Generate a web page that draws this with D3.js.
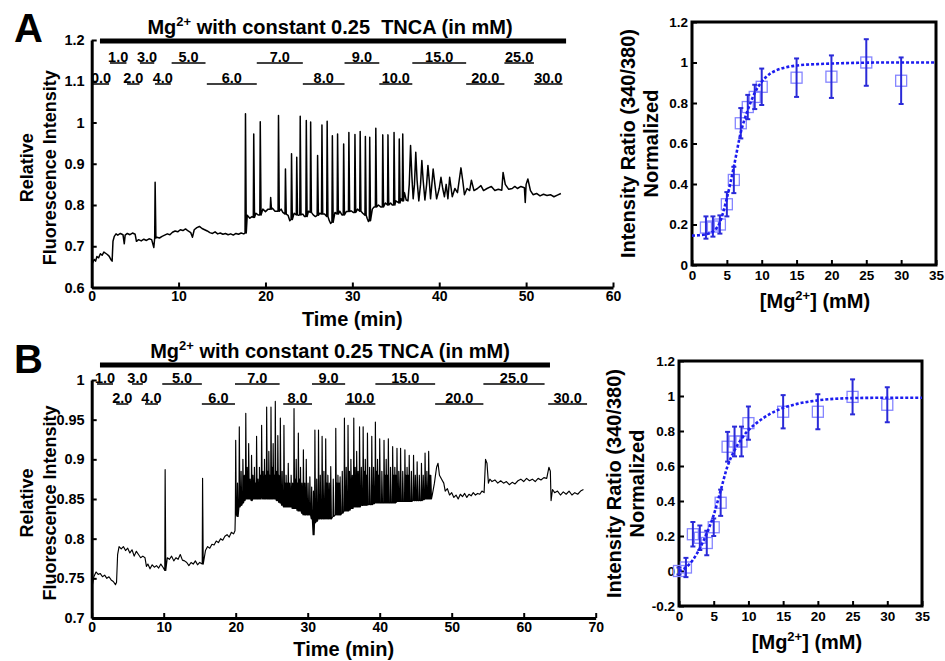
<!DOCTYPE html>
<html>
<head>
<meta charset="utf-8">
<script src="https://cdn.jsdelivr.net/npm/d3@7"></script>
<style>
  body { margin: 0; background: #fff; }
  svg { display: block; font-family: "Liberation Sans", Arial, sans-serif; font-weight: bold; }
</style>
</head>
<body>
<div id="fig"></div>
<script>
// ---- panel A trace: slow baseline + fast spikes [t, trough, peak] ----
const traceA_base = [[0.0,0.655],[0.15,0.662],[0.3,0.668],[0.45,0.664],[0.6,0.675],[0.8,0.672],[1.0,0.682],[1.2,0.678],[1.4,0.686],[1.6,0.683],[1.8,0.68],[2.0,0.676],[2.2,0.668],[2.35,0.664],[2.45,0.712],[2.6,0.724],[2.8,0.73],[3.0,0.727],[3.3,0.731],[3.6,0.728],[3.75,0.706],[3.85,0.727],[4.1,0.731],[4.4,0.728],[4.7,0.732],[5.0,0.729],[5.15,0.712],[5.4,0.716],[5.7,0.713],[6.0,0.717],[6.3,0.714],[6.6,0.718],[6.9,0.716],[7.15,0.697],
  [7.5,0.722],[7.8,0.72],[8.1,0.724],[8.4,0.727],[8.7,0.73],[9.0,0.728],[9.3,0.734],[9.6,0.737],[9.9,0.735],[10.2,0.74],[10.5,0.738],[10.8,0.742],[11.1,0.737],[11.4,0.733],[11.6,0.722],[11.8,0.74],[12.1,0.745],[12.4,0.748],[12.7,0.743],[13.0,0.74],[13.3,0.737],[13.6,0.733],[13.9,0.731],[14.2,0.735],[14.5,0.73],[14.8,0.732],[15.1,0.729],[15.4,0.731],[15.7,0.728],[16.0,0.73],[16.3,0.727],[16.6,0.731],[16.9,0.729],[17.2,0.732],[17.5,0.73],
  [17.9,0.775],[18.2,0.768],[18.45,0.772],[18.9,0.78],[19.15,0.776],[19.7,0.79],[20.0,0.784],[20.3,0.79],[20.8,0.792],[21.1,0.785],[21.8,0.79],[22.0,0.782],[22.6,0.775],[22.8,0.762],[23.3,0.78],[23.8,0.775],[24.3,0.778],[24.5,0.772],[24.95,0.785],[25.5,0.776],[25.75,0.772],[26.25,0.78],[26.8,0.778],[27.35,0.762],[27.5,0.755],[28.0,0.782],[28.55,0.785],[28.8,0.776],[29.3,0.784],[29.85,0.786],[30.1,0.782],[30.6,0.79],[31.2,0.78],[31.7,0.768],[31.85,0.76],[32.3,0.79],[32.5,0.795],[33.0,0.8],[33.3,0.795],[33.8,0.805],[34.4,0.805],[34.6,0.8],[35.0,0.81],[35.6,0.815],[36.0,0.83],[36.2,0.812],
  [36.4,0.81],[36.55,0.85],[36.7,0.944],[36.85,0.87],[37.0,0.815],[37.15,0.85],[37.3,0.928],[37.45,0.86],[37.65,0.81],[37.85,0.85],[38.0,0.908],[38.15,0.86],[38.35,0.812],[38.55,0.85],[38.7,0.896],[38.85,0.86],[39.0,0.815],[39.15,0.85],[39.3,0.887],[39.5,0.85],[39.7,0.815],[40.0,0.84],[40.2,0.867],[40.4,0.84],[40.6,0.82],[40.8,0.85],[41.0,0.815],[41.2,0.867],[41.5,0.82],[41.8,0.84],[42.1,0.83],[42.3,0.86],[42.5,0.89],[42.7,0.86],[42.9,0.825],[43.2,0.84],[43.5,0.835],[43.7,0.86],[44.0,0.835],[44.4,0.84],[44.8,0.847],[45.1,0.835],[45.5,0.84],[46.0,0.845],[46.4,0.835],[46.8,0.838],[47.2,0.836],[47.35,0.879],[47.6,0.85],[48.0,0.838],[48.4,0.84],[48.7,0.845],[49.0,0.84],[49.4,0.845],[49.8,0.842],[49.9,0.806],[50.0,0.85],[50.2,0.863],[50.5,0.835],[50.8,0.825],[51.2,0.828],[51.6,0.822],[52.0,0.826],[52.4,0.823],[52.8,0.825],[53.2,0.82],[53.6,0.824],[54.0,0.828]];
const traceA_spikes = [[7.3,0.72,0.855],[17.7,0.732,1.021],[18.65,0.77,0.972],[19.4,0.776,1.002],[20.6,0.79,0.818],[21.5,0.785,1.017],[22.3,0.778,0.887],[23.0,0.765,0.924],[23.6,0.776,0.916],[24.0,0.776,1.015],[24.7,0.772,1.005],[25.2,0.782,1.001],[26.0,0.775,0.92],[26.5,0.778,0.994],[27.1,0.772,1.003],[27.7,0.758,0.968],[28.3,0.778,0.972],[29.0,0.776,0.948],[29.6,0.784,0.976],[30.3,0.782,0.971],[30.9,0.785,0.978],[31.5,0.775,0.966],[32.0,0.762,0.964],[32.7,0.795,0.986],[33.5,0.795,0.97],[34.1,0.8,0.97],[34.8,0.8,0.976],[35.4,0.805,0.96],[35.8,0.81,0.972]];

// ---- panel B trace ----
const traceB_base = [[0,0.725],[0.1,0.742],[0.3,0.752],[0.6,0.758],[0.9,0.755],[1.2,0.756],[1.5,0.752],[1.8,0.754],[2.1,0.75],[2.4,0.752],[2.7,0.748],[3.0,0.746],[3.3,0.742],[3.45,0.745],[3.6,0.78],[3.8,0.79],[4.1,0.787],[4.4,0.79],[4.7,0.785],[5.0,0.788],[5.3,0.782],[5.6,0.786],[5.9,0.778],[6.2,0.784],[6.5,0.78],[6.8,0.776],[7.1,0.778],[7.4,0.776],[7.6,0.765],[7.8,0.768],[8.1,0.762],[8.4,0.767],[8.7,0.764],[9.0,0.766],[9.3,0.763],[9.6,0.768],[9.9,0.764],
  [10.5,0.776],[10.8,0.774],[11.1,0.778],[11.4,0.772],[11.7,0.776],[12.0,0.774],[12.3,0.78],[12.6,0.773],[12.9,0.772],[13.2,0.77],[13.5,0.766],[13.8,0.77],[14.1,0.768],[14.4,0.772],[14.7,0.767],[15.0,0.77],
  [15.8,0.785],[16.1,0.79],[16.4,0.788],[16.7,0.793],[17.0,0.792],[17.3,0.797],[17.6,0.795],[17.9,0.8],[18.2,0.798],[18.5,0.803],[18.8,0.805],[19.1,0.802],[19.4,0.808],[19.7,0.806],[19.9,0.81],
  [47.3,0.855],[47.6,0.87],[47.9,0.89],[48.1,0.895],[48.3,0.88],[48.6,0.875],[48.9,0.87],[49.1,0.86],[49.4,0.863],[49.7,0.855],[50.0,0.858],[50.3,0.852],[50.6,0.855],[50.9,0.85],[51.2,0.856],[51.5,0.853],[51.8,0.857],[52.1,0.852],[52.4,0.856],[52.7,0.854],[53.0,0.858],[53.3,0.855],[53.6,0.857],[53.9,0.856],[54.2,0.86],[54.5,0.858],[54.7,0.9],[54.9,0.895],[55.1,0.87],[55.3,0.875],[55.6,0.872],[56.0,0.874],[56.4,0.87],[56.8,0.873],[57.2,0.87],[57.6,0.872],[58.0,0.868],[58.4,0.871],[58.8,0.869],[59.2,0.873],[59.6,0.875],[60.0,0.872],[60.4,0.876],[60.8,0.873],[61.2,0.875],[61.6,0.872],[62.0,0.876],[62.4,0.874],[62.8,0.877],[63.2,0.876],[63.5,0.89],[63.7,0.885],[63.8,0.848],[64.0,0.862],[64.3,0.858],[64.7,0.86],[65.1,0.855],[65.5,0.859],[65.9,0.856],[66.3,0.86],[66.7,0.855],[67.1,0.858],[67.5,0.856],[67.9,0.86],[68.3,0.862]];
const traceB_spikes = [[10.2,0.76,0.887],[15.4,0.768,0.876],
  [20.0,0.83,0.924],[20.25,0.828,0.87],[20.5,0.84,0.941],[20.75,0.842,0.885],[21.0,0.845,0.90],[21.2,0.848,0.88],[21.4,0.85,0.958],[21.6,0.85,0.89],[21.8,0.85,0.92],[22.0,0.85,0.875],[22.2,0.848,0.905],[22.4,0.85,0.88],[22.6,0.85,0.89],[22.75,0.85,0.87],[22.9,0.85,0.929],[23.1,0.85,0.875],[23.3,0.85,0.89],[23.45,0.85,0.88],[23.6,0.852,0.943],[23.8,0.85,0.885],[24.0,0.85,0.9],[24.15,0.85,0.88],[24.3,0.852,0.966],[24.45,0.85,0.885],[24.6,0.85,0.91],[24.75,0.85,0.88],[24.9,0.85,0.966],[25.05,0.85,0.89],[25.2,0.852,0.92],[25.35,0.85,0.88],[25.5,0.85,0.973],[25.7,0.848,0.885],[25.85,0.848,0.93],[26.0,0.846,0.88],[26.2,0.845,0.952],[26.45,0.842,0.885],[26.7,0.84,0.943],[26.85,0.84,0.87],[27.0,0.84,0.88],[27.15,0.84,0.87],[27.3,0.84,0.895],[27.5,0.84,0.87],[27.7,0.84,0.88],[27.9,0.838,0.87],[28.1,0.838,0.964],[28.25,0.838,0.875],[28.4,0.838,0.9],[28.55,0.836,0.87],[28.7,0.835,0.933],[28.85,0.835,0.875],[29.0,0.835,0.89],[29.2,0.832,0.87],[29.4,0.83,0.912],[29.6,0.83,0.87],[29.8,0.83,0.9],[30.05,0.83,0.87],[30.3,0.83,0.878],[30.55,0.825,0.865],[30.8,0.805,0.86],[31.0,0.82,0.937],[31.25,0.822,0.875],[31.5,0.825,0.937],[31.75,0.825,0.88],[32.0,0.825,0.929],[32.25,0.825,0.885],[32.5,0.825,0.926],[32.65,0.825,0.87],[32.8,0.825,0.88],[33.0,0.825,0.87],[33.2,0.825,0.891],[33.55,0.828,0.875],[33.9,0.83,0.939],[34.05,0.83,0.87],[34.2,0.83,0.88],[34.35,0.83,0.87],[34.5,0.83,0.878],[34.8,0.832,0.885],[35.1,0.835,0.952],[35.35,0.835,0.89],[35.6,0.835,0.943],[35.8,0.836,0.885],[36.0,0.838,0.9],[36.2,0.838,0.88],[36.4,0.84,0.952],[36.6,0.84,0.89],[36.8,0.84,0.91],[37.0,0.84,0.885],[37.2,0.84,0.941],[37.45,0.842,0.89],[37.7,0.842,0.941],[37.85,0.842,0.885],[38.0,0.842,0.9],[38.15,0.842,0.88],[38.3,0.843,0.933],[38.6,0.843,0.89],[38.9,0.843,0.929],[39.15,0.844,0.89],[39.4,0.845,0.947],[39.55,0.845,0.885],[39.7,0.845,0.9],[39.85,0.845,0.88],[40.0,0.845,0.926],[40.3,0.845,0.885],[40.6,0.845,0.924],[40.75,0.845,0.88],[40.9,0.845,0.9],[41.05,0.845,0.88],[41.2,0.845,0.926],[41.5,0.845,0.89],[41.8,0.845,0.916],[41.95,0.845,0.88],[42.1,0.845,0.89],[42.25,0.846,0.88],[42.4,0.847,0.914],[42.65,0.847,0.885],[42.9,0.847,0.914],[43.2,0.847,0.885],[43.5,0.847,0.912],[43.65,0.847,0.88],[43.8,0.847,0.89],[43.95,0.847,0.88],[44.1,0.847,0.905],[44.4,0.847,0.885],[44.7,0.848,0.905],[44.95,0.848,0.88],[45.2,0.848,0.897],[45.5,0.848,0.88],[45.8,0.848,0.895],[46.05,0.849,0.88],[46.3,0.85,0.908],[46.55,0.85,0.885],[46.8,0.85,0.91],[46.95,0.85,0.88],[47.1,0.85,0.88]];

// ---- Mg2+ concentration steps (mM) and their time windows (min) ----
const concLabelsA = ['0.0','1.0','2.0','3.0','4.0','5.0','6.0','7.0','8.0','9.0','10.0','15.0','20.0','25.0','30.0'];
const concStartA  = [0.15, 2.1, 4.07, 5.55, 7.28, 9.2, 13.25, 19.0, 24.3, 29.1, 33.1, 36.9, 43.1, 47.5, 50.9];
const concEndA    = [2.0, 4.0, 5.5, 7.2, 9.1, 13.1, 19.0, 24.3, 29.1, 33.1, 36.9, 43.1, 47.5, 50.9, 54.2];
const concLabelsB = ['1.0','2.0','3.0','4.0','5.0','6.0','7.0','8.0','9.0','10.0','15.0','20.0','25.0','30.0'];
const concStartB  = [0.74, 3.4, 5.6, 7.4, 9.8, 15.3, 19.9, 26.6, 30.6, 35.2, 39.4, 47.7, 54.4, 63.4];
const concEndB    = [2.96, 5.1, 7.1, 9.2, 15.3, 19.9, 26.1, 30.6, 35.2, 39.4, 47.7, 54.4, 62.9, 68.8];
const runSpanA = [0.95, 54.6];
const runSpanB = [1.15, 63.65];

// ---- titration (normalized 340/380 ratio) ----
const mgA   = [2, 3, 4, 5, 6, 7, 8, 9, 10, 15, 20, 25, 30];
const ratioA = [0.185, 0.19, 0.2, 0.30, 0.42, 0.70, 0.78, 0.83, 0.88, 0.925, 0.93, 1.0, 0.91];
const errA   = [0.055, 0.05, 0.045, 0.06, 0.065, 0.075, 0.06, 0.06, 0.09, 0.095, 0.105, 0.115, 0.115];
const fitA = [[0,0.145],[1,0.147],[2,0.152],[3,0.165],[4,0.21],[5,0.33],[6,0.485],[7,0.655],[8,0.765],[9,0.85],[10,0.905],[11,0.94],[12,0.96],[13,0.972],[15,0.985],[18,0.992],[22,0.997],[28,1.0],[35,1.0]];
const mgB   = [0, 1, 2, 3, 4, 5, 6, 7, 8, 9, 10, 15, 20, 25, 30];
const ratioB = [0.0, 0.02, 0.21, 0.19, 0.16, 0.25, 0.39, 0.71, 0.74, 0.74, 0.845, 0.91, 0.91, 0.995, 0.95];
const errB   = [0.02, 0.055, 0.07, 0.07, 0.07, 0.05, 0.075, 0.085, 0.085, 0.085, 0.095, 0.095, 0.1, 0.1, 0.1];
const fitB = [[0,0.0],[1,0.02],[2,0.063],[3,0.13],[4,0.215],[5,0.32],[6,0.46],[7,0.6],[8,0.69],[9,0.755],[10,0.805],[11,0.84],[12,0.87],[13,0.895],[15,0.932],[17,0.955],[20,0.975],[25,0.988],[30,0.99],[35,0.99]];

const ticksTraceYA = [0.6, 0.7, 0.8, 0.9, 1, 1.1, 1.2];
const ticksTraceYB = [0.7, 0.75, 0.8, 0.85, 0.9, 0.95, 1];
const ticksRatioYA = [0, 0.2, 0.4, 0.6, 0.8, 1, 1.2];
const ticksRatioYB = [-0.2, 0, 0.2, 0.4, 0.6, 0.8, 1, 1.2];
const ticksMg = [0, 5, 10, 15, 20, 25, 30, 35];

const width = 945, height = 661;
const svg = d3.select('#fig').append('svg').attr('width', width).attr('height', height);
const fmt = d => String(d);

function styleAxis(g, w) {
    g.select('.domain').attr('stroke-width', w);
    g.selectAll('.tick line').attr('stroke-width', 2);
    g.selectAll('text').attr('fill', '#000');
}

function tracePanel(o) {
    const x = d3.scaleLinear().domain(o.xDomain).range([o.left, o.right]);
    const y = d3.scaleLinear().domain(o.yDomain).range([o.bottom, o.top]);
    const g = svg.append('g');

    // merge baseline with the spikes (sharp rise, quick fall)
    const pts = o.base.slice();
    o.spikes.forEach(s => pts.push([s[0] - 0.05, s[1]], [s[0], s[2]], [s[0] + 0.09, s[1]]));
    pts.sort((a, b) => a[0] - b[0]);
    g.append('path').datum(pts)
        .attr('d', d3.line().x(d => x(d[0])).y(d => y(d[1])))
        .attr('fill', 'none').attr('stroke', '#000').attr('stroke-width', o.lineW)
        .attr('stroke-linejoin', 'round');

    g.append('g').attr('transform', `translate(${o.left},0)`)
        .call(d3.axisLeft(y).tickValues(o.yTicks).tickFormat(fmt).tickSize(-5).tickSizeOuter(0).tickPadding(7))
        .attr('font-size', 14.5).attr('font-family', null).attr('font-weight', 'bold')
        .call(g => styleAxis(g, 3));
    g.append('g').attr('transform', `translate(0,${o.bottom})`)
        .call(d3.axisBottom(x).ticks(o.xTicks).tickFormat(fmt).tickSize(-5).tickSizeOuter(0).tickPadding(4))
        .attr('font-size', 14).attr('font-family', null).attr('font-weight', 'bold')
        .call(g => styleAxis(g, 3));

    g.append('text').attr('x', (o.left + o.right) / 2).attr('y', o.bottom + 38)
        .attr('text-anchor', 'middle').attr('font-size', 20).text('Time (min)');
    const cy = (o.top + o.bottom) / 2 + 4;
    g.append('text').attr('transform', `translate(33,${cy}) rotate(-90)`)
        .attr('text-anchor', 'middle').attr('font-size', 18).text('Relative');
    g.append('text').attr('transform', `translate(56,${cy}) rotate(-90)`)
        .attr('text-anchor', 'middle').attr('font-size', 18).text('Fluorescence Intensity');

    // header: thick run bar + title
    const t = g.append('text').attr('x', 330).attr('y', o.headY).attr('text-anchor', 'middle')
        .attr('font-size', 20).style('white-space', 'pre');
    t.append('tspan').text('Mg');
    t.append('tspan').attr('font-size', 13).attr('dy', -8).text('2+');
    t.append('tspan').attr('dy', 8).text(o.title);
    g.append('line').attr('x1', x(o.span[0])).attr('x2', x(o.span[1]))
        .attr('y1', o.barY).attr('y2', o.barY).attr('stroke', '#000').attr('stroke-width', 5);

    // concentration steps, alternating between two rows
    o.labels.forEach((lab, i) => {
        const row = (i + o.firstRow) % 2;
        const yy = o.rowY[row];
        g.append('line').attr('x1', x(o.starts[i])).attr('x2', x(o.ends[i]))
            .attr('y1', yy).attr('y2', yy).attr('stroke', '#000').attr('stroke-width', 1.5);
        g.append('text').attr('x', x((o.starts[i] + o.ends[i]) / 2)).attr('y', yy - 1.5)
            .attr('text-anchor', 'middle').attr('font-size', 14.5).text(lab);
    });

    g.append('text').attr('x', 14).attr('y', o.letterY).attr('font-size', 40).text(o.letter);
}

function ratioPanel(o) {
    const x = d3.scaleLinear().domain([0, 35]).range([o.left, o.right]);
    const y = d3.scaleLinear().domain(o.yDomain).range([o.bottom, o.top]);
    const g = svg.append('g');

    g.append('g').attr('transform', `translate(${o.left},0)`)
        .call(d3.axisLeft(y).tickValues(o.yTicks).tickFormat(fmt).tickSize(-5).tickSizeOuter(0).tickPadding(4))
        .attr('font-size', 13.5).attr('font-family', null).attr('font-weight', 'bold')
        .call(g => styleAxis(g, 0));
    g.append('g').attr('transform', `translate(0,${o.bottom})`)
        .call(d3.axisBottom(x).tickValues(ticksMg).tickFormat(fmt).tickSize(-5).tickSizeOuter(0).tickPadding(5))
        .attr('font-size', 13.5).attr('font-family', null).attr('font-weight', 'bold')
        .call(g => styleAxis(g, 0));
    g.append('rect').attr('x', o.left).attr('y', o.top)
        .attr('width', o.right - o.left).attr('height', o.bottom - o.top)
        .attr('fill', 'none').attr('stroke', '#000').attr('stroke-width', 3);

    const pts = o.mg.map((m, i) => ({m, v: o.ratio[i], e: o.err[i]}));
    g.selectAll('rect.pt').data(pts).enter().append('rect').attr('class', 'pt')
        .attr('x', d => x(d.m) - 5.5).attr('y', d => y(d.v) - 5.5).attr('width', 11).attr('height', 11)
        .attr('fill', 'none').attr('stroke', '#8585ff').attr('stroke-width', 1.3);
    const eb = g.selectAll('g.eb').data(pts).enter().append('g').attr('class', 'eb')
        .attr('stroke', '#2a2ad8').attr('stroke-width', 2);
    eb.append('line').attr('x1', d => x(d.m)).attr('x2', d => x(d.m))
        .attr('y1', d => y(d.v - d.e)).attr('y2', d => y(d.v + d.e));
    eb.append('line').attr('x1', d => x(d.m) - 2.5).attr('x2', d => x(d.m) + 2.5)
        .attr('y1', d => y(d.v - d.e)).attr('y2', d => y(d.v - d.e));
    eb.append('line').attr('x1', d => x(d.m) - 2.5).attr('x2', d => x(d.m) + 2.5)
        .attr('y1', d => y(d.v + d.e)).attr('y2', d => y(d.v + d.e));

    g.append('path').datum(o.fit)
        .attr('d', d3.line().curve(d3.curveMonotoneX).x(d => x(d[0])).y(d => y(d[1])))
        .attr('fill', 'none').attr('stroke', '#1c1cf0').attr('stroke-width', 2.6)
        .attr('stroke-dasharray', '3,2');

    const t = g.append('text').attr('x', o.xTitleX).attr('y', o.bottom + 43)
        .attr('text-anchor', 'middle').attr('font-size', 20);
    t.append('tspan').text('[Mg');
    t.append('tspan').attr('font-size', 13).attr('dy', -8).text('2+');
    t.append('tspan').attr('dy', 8).text('] (mM)');
    const cy = (o.top + o.bottom) / 2;
    g.append('text').attr('transform', `translate(${o.titleX},${cy}) rotate(-90)`)
        .attr('text-anchor', 'middle').attr('font-size', 20).text('Intensity Ratio (340/380)');
    g.append('text').attr('transform', `translate(${o.titleX + 23},${cy}) rotate(-90)`)
        .attr('text-anchor', 'middle').attr('font-size', 20).text('Normalized');
}

tracePanel({
    letter: 'A', letterY: 42, left: 91.7, right: 613, top: 40, bottom: 287.5,
    xDomain: [0, 60], yDomain: [0.6, 1.2], yTicks: ticksTraceYA, xTicks: 6,
    base: traceA_base, spikes: traceA_spikes, lineW: 1.5,
    title: ' with constant 0.25  TNCA (in mM)', headY: 34, barY: 41, span: runSpanA,
    labels: concLabelsA, starts: concStartA, ends: concEndA, firstRow: 1, rowY: [63, 84]
});
tracePanel({
    letter: 'B', letterY: 373, left: 91.7, right: 595.7, top: 380, bottom: 618,
    xDomain: [0, 70], yDomain: [0.7, 1], yTicks: ticksTraceYB, xTicks: 7,
    base: traceB_base, spikes: traceB_spikes, lineW: 1.15,
    title: ' with constant 0.25 TNCA (in mM)', headY: 358, barY: 365, span: runSpanB,
    labels: concLabelsB, starts: concStartB, ends: concEndB, firstRow: 0, rowY: [384, 404]
});
ratioPanel({
    left: 692, right: 936, top: 22, bottom: 265, yDomain: [0, 1.2], yTicks: ticksRatioYA,
    mg: mgA, ratio: ratioA, err: errA, fit: fitA, titleX: 635, xTitleX: 815
});
ratioPanel({
    left: 679, right: 922, top: 361, bottom: 606, yDomain: [-0.2, 1.2], yTicks: ticksRatioYB,
    mg: mgB, ratio: ratioB, err: errB, fit: fitB, titleX: 621, xTitleX: 807
});
</script>
</body>
</html>
